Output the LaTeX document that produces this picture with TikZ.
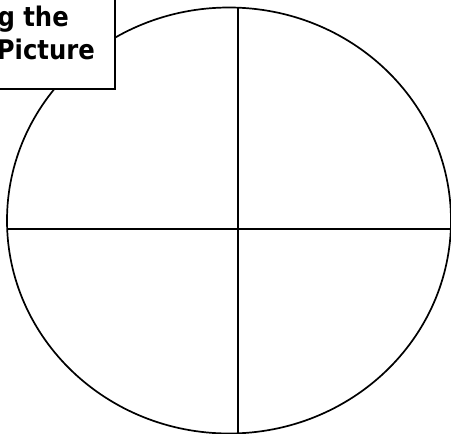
\documentclass[tikz,border=0pt]{standalone}
\usepackage{fontspec}
\setmainfont{DejaVu Sans Condensed}
\begin{document}
\begin{tikzpicture}[x=1pt,y=-1pt,
  outline/.style={draw=black,line width=1.7pt},
  title/.style={font=\fontsize{27}{32}\selectfont\bfseries,inner sep=0pt,anchor=base east}]
\useasboundingbox (0,0) rectangle (451,434);
\clip (0,0) rectangle (451,434);
\coordinate (c) at (229,220.5);
\draw[outline] (c) ellipse [x radius=222, y radius=213];
\coordinate (vtop) at (238,7.5);
\coordinate (vbot) at (238,440);
\coordinate (hl) at (7,229);
\coordinate (hr) at (460,229);
\draw[outline] (vtop) -- (vbot);
\draw[outline] (hl) -- (hr);
\node[outline,fill=white,minimum width=150pt,minimum height=110pt,anchor=south east] (box) at (116,90) {};
\node[title] (t1) at (69,26) {g the};
\node[title] (t2) at (95,59) {Picture};
\end{tikzpicture}
\end{document}
